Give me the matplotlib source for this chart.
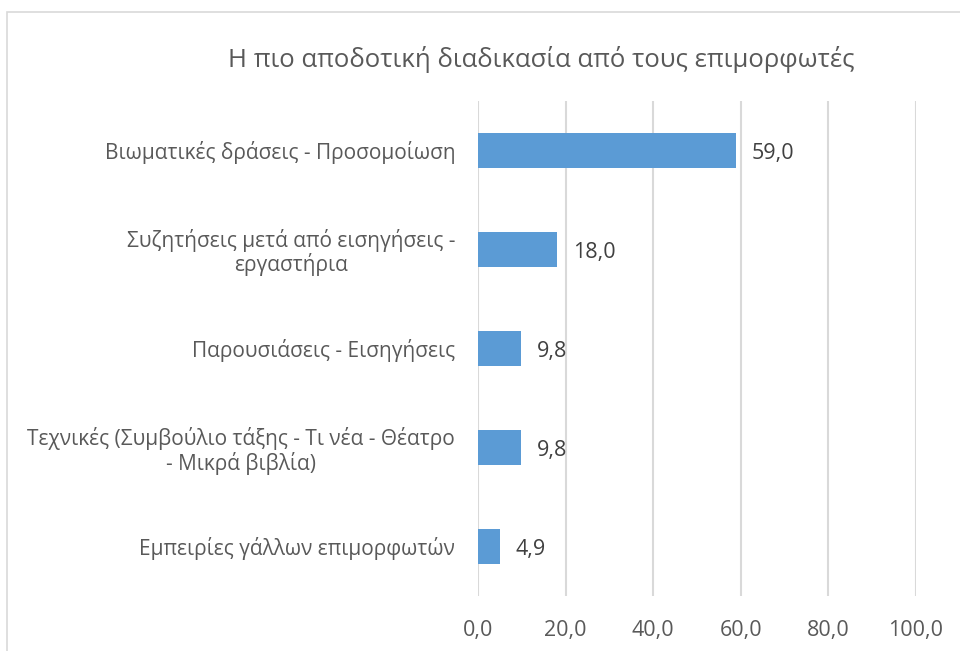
import matplotlib.pyplot as plt
from matplotlib.patches import Rectangle

# data
categories = [
    'Βιωματικές δράσεις - Προσομοίωση',
    'Συζητήσεις μετά από εισηγήσεις -\nεργαστήρια',
    'Παρουσιάσεις - Εισηγήσεις',
    'Τεχνικές (Συμβούλιο τάξης - Τι νέα - Θέατρο\n- Μικρά βιβλία)',
    'Εμπειρίες γάλλων επιμορφωτών',
]
values = [59.0, 18.0, 9.8, 9.8, 4.9]
x_ticks = [0, 20, 40, 60, 80, 100]
title = 'Η πιο αποδοτική διαδικασία από τους επιμορφωτές'

plt.rcParams['font.family'] = ['Open Sans', 'DejaVu Sans']
text_col = '#595959'
bar_col = '#5B9BD5'
grid_col = '#d9d9d9'

fig = plt.figure(figsize=(9.6, 6.51), dpi=100)
ax = fig.add_axes([0.498, 0.0845, 0.456, 0.7611])

# chart border (cropped at right/bottom like the reference)
fig.patches.append(Rectangle((7 / 960, -0.1), 1.2, 1 - 11.5 / 651 + 0.1,
                             transform=fig.transFigure, fill=False,
                             edgecolor=grid_col, linewidth=1.2))

ypos = list(range(len(categories)))
ax.barh(ypos, values, height=0.354, color=bar_col, zorder=3)

for y, v in zip(ypos, values):
    ax.text(v + 3.6, y + 0.03, f'{v:.1f}'.replace('.', ','), va='center',
            ha='left', fontsize=15.5, color='#404040')

ax.set_ylim(len(categories) - 0.5, -0.5)
ax.set_xlim(0, 100)
ax.set_yticks(ypos)
ax.set_yticklabels(categories, fontsize=15, color=text_col,
                   ha='right', multialignment='center', linespacing=1.1)
ax.set_xticks(x_ticks)
ax.set_xticklabels([f'{t:.1f}'.replace('.', ',') for t in x_ticks],
                   fontsize=15.5, color=text_col)
ax.tick_params(axis='both', length=0)
ax.tick_params(axis='y', pad=16.5)
ax.tick_params(axis='x', pad=17)

for s in ax.spines.values():
    s.set_visible(False)
ax.grid(axis='x', color=grid_col, linewidth=1.5, zorder=0)
ax.set_axisbelow(True)

fig.text(0.5635, 0.909, title, ha='center', va='center',
         fontsize=18.5, color=text_col)

plt.savefig('out.png', dpi=100)
plt.close()
